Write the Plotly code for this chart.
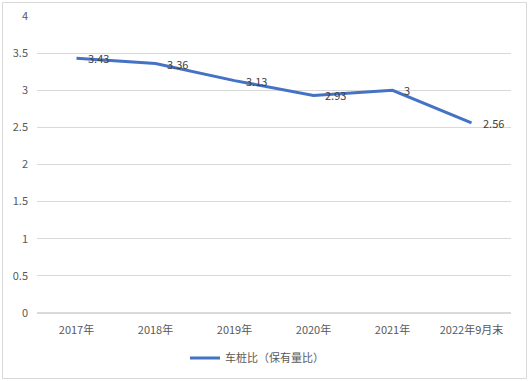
import plotly.graph_objects as go

categories = ["2017年", "2018年", "2019年", "2020年", "2021年", "2022年9月末"]
values = [3.43, 3.36, 3.13, 2.93, 3, 2.56]
labels = ["3.43", "3.36", "3.13", "2.93", "3", "2.56"]
series_name = "车桩比（保有量比）"
y_ticks = [0, 0.5, 1, 1.5, 2, 2.5, 3, 3.5, 4]
y_tick_text = ["0", "0.5", "1", "1.5", "2", "2.5", "3", "3.5", "4"]

font_family = "Noto Sans CJK SC, DejaVu Sans, sans-serif"

fig = go.Figure()
fig.add_trace(go.Scatter(
    x=categories, y=values, mode="lines", name=series_name,
    line=dict(color="#4472C4", width=3),
))

for c, v, t in zip(categories, values, labels):
    fig.add_annotation(x=c, y=v, text=t, showarrow=False, xanchor="left", yanchor="middle",
                       xshift=9, font=dict(size=11, color="#404040", family=font_family))

L, R, T, B = 37, 18, 16, 68
W, H = 529, 381
pw, ph = W - L - R, H - T - B

def px_x(x):
    return (x - L) / pw

def px_y(y):
    return (H - B - y) / ph

fig.add_shape(type="rect", xref="paper", yref="paper",
              x0=px_x(2.5), x1=px_x(526.5), y0=px_y(378.5), y1=px_y(2.5),
              line=dict(color="#D9D9D9", width=1), fillcolor="rgba(0,0,0,0)", layer="below")

fig.update_layout(
    width=W, height=H,
    margin=dict(l=L, r=R, t=T, b=B, autoexpand=False),
    paper_bgcolor="white", plot_bgcolor="white",
    font=dict(family=font_family, size=11, color="#595959"),
    showlegend=True,
    legend=dict(orientation="h", x=px_x(185), xanchor="left", y=px_y(358), yanchor="middle",
                font=dict(size=11, color="#595959"), itemwidth=30),
    xaxis=dict(type="category", range=[-0.5, 5.5], showgrid=False, showline=False,
               ticks="", tickfont=dict(size=11, color="#595959"), zeroline=False,
               automargin=False, ticklabelstandoff=9),
    yaxis=dict(range=[0, 4], tickvals=y_ticks, ticktext=y_tick_text, showgrid=True,
               gridcolor="#D9D9D9", gridwidth=1, zeroline=True, zerolinecolor="#D9D9D9",
               showline=False, ticks="", ticklabelstandoff=8, automargin=False,
               tickfont=dict(size=11, color="#595959")),
)

fig.write_html("out.html", config={"displayModeBar": False},
               post_script="document.body.style.margin='0';")
